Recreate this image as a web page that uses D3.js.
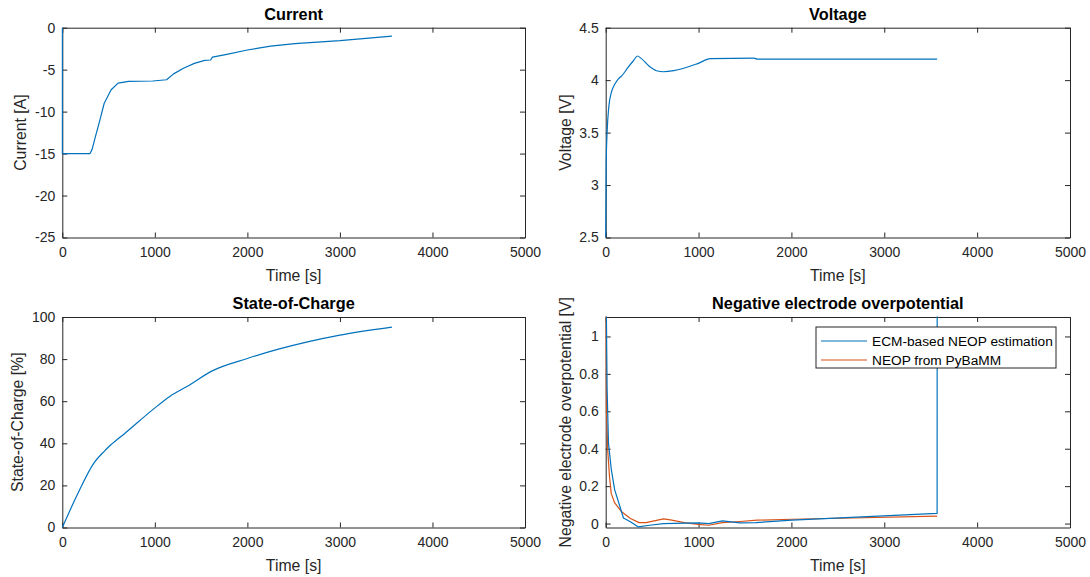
<!DOCTYPE html>
<html>
<head>
<meta charset="utf-8">
<script src="https://cdn.jsdelivr.net/npm/d3@7"></script>
<style>
  body { margin: 0; background: #fff; }
  svg { display: block; font-family: "Liberation Sans", Arial, sans-serif; }
</style>
</head>
<body>
<div id="plot"></div>
<script>
// data
const currentTime = [0, 0, 300, 322, 360, 397, 453, 528, 603, 715, 978, 1127, 1202, 1315, 1427, 1539, 1603, 1622, 1764, 2000, 2251, 2513, 3000, 3562];
const currentVal  = [0, -15, -15, -14.5, -12.9, -11.4, -9.0, -7.4, -6.6, -6.4, -6.35, -6.2, -5.5, -4.8, -4.25, -3.9, -3.85, -3.5, -3.2, -2.66, -2.2, -1.9, -1.55, -1.0];

const voltTime = [0, 5, 15, 34, 60, 97, 135, 172, 247, 303, 341, 378, 472, 547, 622, 734, 996, 1127, 1596, 1633, 3569];
const voltVal  = [2.5, 3.2, 3.5, 3.75, 3.88, 3.96, 4.01, 4.04, 4.13, 4.19, 4.23, 4.21, 4.13, 4.09, 4.08, 4.09, 4.16, 4.205, 4.21, 4.20, 4.20];

const socTime = [0, 154, 341, 453, 528, 678, 978, 1165, 1352, 1614, 2000, 2326, 3000, 3562];
const socVal  = [0, 14.8, 30.6, 36.2, 39.4, 44.8, 56, 62.4, 67.1, 74.3, 80.3, 84.6, 91.4, 95.2];

const ecmTime = [0, 15, 30, 60, 97, 154, 191, 266, 352, 472, 622, 996, 1109, 1258, 1446, 1614, 2007, 3569, 3570];
const ecmVal  = [1.5, 0.72, 0.43, 0.29, 0.18, 0.09, 0.03, 0.01, -0.018, -0.009, 0, 0.004, 0, 0.014, 0.004, 0.005, 0.018, 0.054, 1.5];

const pybTime = [0, 7, 22, 41, 60, 97, 172, 266, 360, 434, 622, 697, 846, 996, 1109, 1258, 1446, 1633, 2007, 3569];
const pybVal  = [1.5, 0.63, 0.39, 0.25, 0.16, 0.11, 0.063, 0.027, 0.005, 0.005, 0.025, 0.02, 0.005, -0.004, -0.009, 0.005, 0.011, 0.018, 0.023, 0.04];

const xTicks = [0, 1000, 2000, 3000, 4000, 5000];
const legendNames = ["ECM-based NEOP estimation", "NEOP from PyBaMM"];

const blue = "#0072BD", orange = "#D95319", ink = "#262626";

const svg = d3.select("div#plot").append("svg")
    .attr("width", 1090)
    .attr("height", 577);

const panels = [
  { x0: 62.3, x1: 525, y0: 27.7, y1: 237.5, ydom: [-25, 0], yticks: [-25, -20, -15, -10, -5, 0],
    title: "Current", ylabel: "Current [A]", ylx: 20,
    series: [{ t: currentTime, v: currentVal, c: blue, smooth: false }] },
  { x0: 605.7, x1: 1070, y0: 27.7, y1: 237.5, ydom: [2.5, 4.5], yticks: [2.5, 3, 3.5, 4, 4.5],
    title: "Voltage", ylabel: "Voltage [V]", ylx: 565,
    series: [{ t: voltTime, v: voltVal, c: blue, smooth: true }] },
  { x0: 62.3, x1: 525, y0: 317, y1: 527.5, ydom: [0, 100], yticks: [0, 20, 40, 60, 80, 100],
    title: "State-of-Charge", ylabel: "State-of-Charge [%]", ylx: 17,
    series: [{ t: socTime, v: socVal, c: blue, smooth: true }] },
  { x0: 605.7, x1: 1070, y0: 317, y1: 527.5, ydom: [-0.021, 1.104], yticks: [0, 0.2, 0.4, 0.6, 0.8, 1],
    title: "Negative electrode overpotential", ylabel: "Negative electrode overpotential [V]", ylx: 565,
    series: [{ t: pybTime, v: pybVal, c: orange, smooth: false }, { t: ecmTime, v: ecmVal, c: blue, smooth: false }],
    legend: true }
];

panels.forEach((p, i) => {
  const w = p.x1 - p.x0, h = p.y1 - p.y0;
  const g = svg.append("g").attr("transform", `translate(${p.x0},${p.y0})`);
  const x = d3.scaleLinear().domain([0, 5000]).range([0, w]);
  const y = d3.scaleLinear().domain(p.ydom).range([h, 0]);

  g.append("clipPath").attr("id", "clip" + i)
    .append("rect").attr("x", -1).attr("y", -0.5).attr("width", w + 2).attr("height", h + 1);

  const fmt = d => String(d);
  g.append("g").attr("transform", `translate(0,${h})`)
    .call(d3.axisBottom(x).tickValues(xTicks).tickSizeInner(-5).tickSizeOuter(0).tickPadding(10).tickFormat(fmt));
  g.append("g")
    .call(d3.axisTop(x).tickValues(xTicks).tickSizeInner(-5).tickSizeOuter(0).tickFormat(""));
  g.append("g")
    .call(d3.axisLeft(y).tickValues(p.yticks).tickSizeInner(-5).tickSizeOuter(0).tickPadding(7).tickFormat(fmt));
  g.append("g").attr("transform", `translate(${w},0)`)
    .call(d3.axisRight(y).tickValues(p.yticks).tickSizeInner(-5).tickSizeOuter(0).tickFormat(""));
  g.selectAll(".tick text").attr("fill", ink).style("font-size", "14px")
    .style("font-family", "'Liberation Sans', Arial, sans-serif");
  g.selectAll(".domain").attr("stroke", ink);
  g.selectAll(".tick line").attr("stroke", ink);

  // lines drawn over the axes, as in the original
  p.series.forEach(s => {
    const pts = s.t.map((t, k) => [t, s.v[k]]);
    const line = d3.line().x(d => x(d[0])).y(d => y(d[1]))
      .curve(s.smooth ? d3.curveMonotoneX : d3.curveLinear);
    g.append("path")
      .attr("clip-path", `url(#clip${i})`)
      .attr("d", line(pts))
      .attr("fill", "none")
      .attr("stroke", s.c)
      .attr("stroke-width", 1.2)
      .attr("stroke-linejoin", "round");
  });

  svg.append("text")
    .attr("x", p.x0 + w / 2).attr("y", p.y0 - 8)
    .attr("text-anchor", "middle")
    .attr("font-weight", "bold").attr("font-size", 16.3).attr("fill", "#000")
    .text(p.title);

  svg.append("text")
    .attr("x", p.x0 + w / 2).attr("y", p.y1 + 43)
    .attr("text-anchor", "middle")
    .attr("font-size", 15.8).attr("fill", ink)
    .text("Time [s]");

  svg.append("text")
    .attr("transform", `translate(${p.ylx},${p.y0 + h / 2}) rotate(-90)`)
    .attr("text-anchor", "middle").attr("dy", "0.35em")
    .attr("font-size", 15.8).attr("fill", ink)
    .text(p.ylabel);

  if (p.legend) {
    const lx = 816 - p.x0, ly = 327 - p.y0;
    const lg = g.append("g").attr("transform", `translate(${lx},${ly})`);
    lg.append("rect").attr("width", 240).attr("height", 41)
      .attr("fill", "#fff").attr("stroke", ink).attr("stroke-width", 1);
    legendNames.forEach((name, k) => {
      const yy = 14 + k * 19;
      lg.append("line").attr("x1", 5).attr("x2", 51).attr("y1", yy).attr("y2", yy)
        .attr("stroke", k === 0 ? blue : orange).attr("stroke-width", 1.2);
      lg.append("text").attr("x", 56).attr("y", yy).attr("dy", "0.35em")
        .attr("font-size", 13.7).attr("fill", "#000").text(name);
    });
  }
});
</script>
</body>
</html>
